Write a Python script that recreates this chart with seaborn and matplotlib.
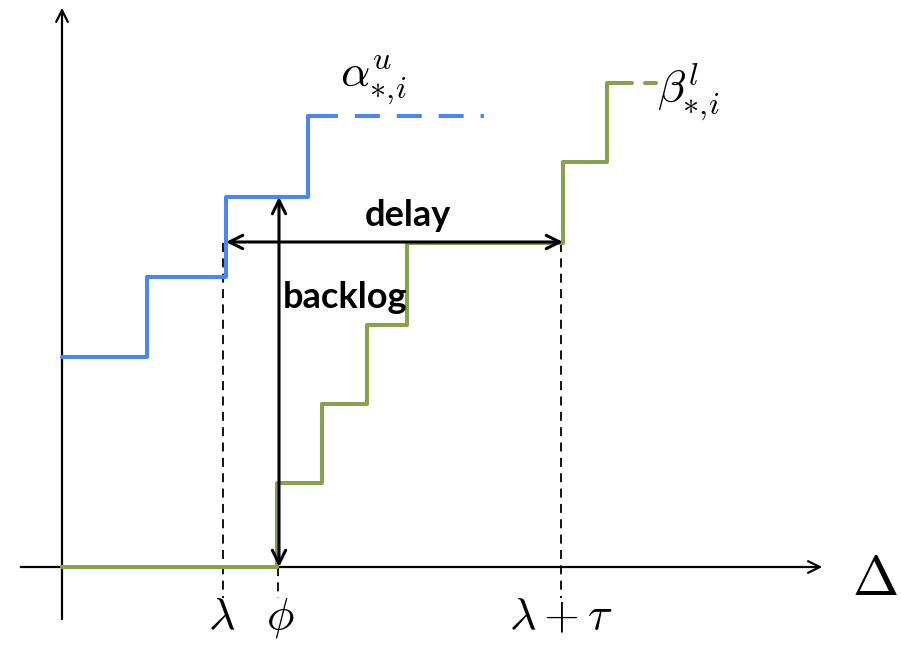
import numpy as np
import pandas as pd
import seaborn as sns
import matplotlib.pyplot as plt

# ------------------ data (diagram units, origin at axis crossing) ------------------
blue_x = [0, 85, 164, 246, 251]
blue_y = [210, 290, 370, 451, 451]
blue_tail_x = [251, 422]
blue_tail_y = [451, 451]

green_x = [0, 215, 260, 305, 345, 501, 545, 570]
green_y = [0, 84, 163, 242, 324, 405, 484, 484]
green_tail_x = [583, 594]
green_tail_y = [484, 484]

tick_x = [161, 216, 499]
tick_top = [324, 0, 324]
tick_labels = [r'$\lambda$', r'$\phi$', r'$\lambda + \tau$']
tick_label_x = [160, 218, 499]

delay_y = 325
delay_from, delay_to = 164, 501
backlog_x = 217
backlog_from, backlog_to = 0, 370

blue = '#4a87f5'
green = '#87a24b'

sns.set_theme(style='white')
plt.rcParams['mathtext.fontset'] = 'cm'
plt.rcParams['text.color'] = 'black'

fig = plt.figure(figsize=(9.01, 6.45), dpi=100)
ax = fig.add_axes([0, 0, 1, 1])
ax.set_xlim(-62, 839)
ax.set_ylim(-78, 567)
ax.axis('off')

# axes with open arrow heads
ax.annotate('', xy=(0, 562), xytext=(0, -55),
            arrowprops=dict(arrowstyle='->,head_length=0.7,head_width=0.35', lw=1.6, color='black'))
ax.annotate('', xy=(763, 0), xytext=(-44, 0),
            arrowprops=dict(arrowstyle='->,head_length=0.7,head_width=0.35', lw=1.6, color='black'))

# step curves
sns.lineplot(x=green_x, y=green_y, drawstyle='steps-post', color=green, lw=2.9, ax=ax, zorder=3)
sns.lineplot(x=green_tail_x, y=green_tail_y, color=green, lw=2.9, ax=ax, zorder=3)
sns.lineplot(x=blue_x, y=blue_y, drawstyle='steps-post', color=blue, lw=2.9, ax=ax, zorder=3)
ax.plot(blue_tail_x, blue_tail_y, color=blue, lw=2.9, linestyle=(0, (6.2, 4.2)), zorder=3)

# dashed guides
for x, top in zip(tick_x, tick_top):
    ax.plot([x, x], [top, -31], color='black', lw=1.3, linestyle=(0, (5, 3.5)), zorder=2)

# delay / backlog arrows
ax.annotate('', xy=(delay_from, delay_y), xytext=(delay_to, delay_y),
            arrowprops=dict(arrowstyle='<->,head_length=0.8,head_width=0.4', lw=2.2,
                            color='black', shrinkA=0, shrinkB=0), zorder=4)
ax.annotate('', xy=(backlog_x, backlog_to), xytext=(backlog_x, backlog_from),
            arrowprops=dict(arrowstyle='<->,head_length=0.8,head_width=0.4', lw=2.2,
                            color='black', shrinkA=0, shrinkB=0), zorder=4)

ax.text(346, 352, 'delay', fontsize=26, fontweight='bold', family='Lato',
        ha='center', va='center')
ax.text(283, 270, 'backlog', fontsize=26, fontweight='bold', family='Lato',
        ha='center', va='center')

ax.text(311, 487, r'$\alpha^{u}_{*,\!i}$', fontsize=33, ha='center', va='center')
ax.text(627, 475, r'$\beta^{l}_{*,\!i}$', fontsize=33, ha='center', va='center')
ax.text(813, -13, r'$\Delta$', fontsize=40, ha='center', va='center')

for x, lab in zip(tick_label_x, tick_labels):
    ax.text(x, -50, lab, fontsize=33, ha='center', va='center')

fig.savefig('out.png', dpi=100)
